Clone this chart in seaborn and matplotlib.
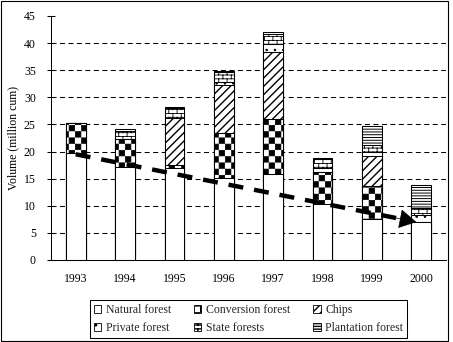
import warnings
warnings.filterwarnings("ignore")
import numpy as np
import matplotlib
matplotlib.use("Agg")
import matplotlib.pyplot as plt
import matplotlib.hatch as mhatch
from matplotlib.path import Path
from matplotlib.patches import Patch, Rectangle
import seaborn as sns

# ---------------- data ----------------
years = ["1993", "1994", "1995", "1996", "1997", "1998", "1999", "2000"]
natural_forest = [19.8, 17.2, 16.9, 15.2, 15.8, 10.3, 7.5, 7.1]
conversion_forest = [5.4, 5.1, 0.6, 8.3, 10.2, 6.0, 6.1, 0.0]
chips = [0.0, 0.0, 8.6, 8.8, 12.4, 0.0, 5.5, 0.0]
private_forest = [0.0, 0.0, 0.0, 0.6, 1.4, 0.6, 0.9, 1.2]
state_forests = [0.0, 1.5, 1.9, 1.7, 1.8, 1.7, 1.2, 1.2]
plantation_forest = [0.0, 0.3, 0.3, 0.3, 0.5, 0.3, 3.5, 4.3]
series_names = ["Natural forest", "Conversion forest", "Chips",
                "Private forest", "State forests", "Plantation forest"]
trend_x = [0, 6.9]
trend_y = [19.5, 7.0]
y_ticks = [0, 5, 10, 15, 20, 25, 30, 35, 40, 45]

# ---------------- custom hatch patterns ----------------
CHECK_INSET = 0.0035


class CheckerHatch(mhatch.HatchPatternBase):
    def __init__(self, hatch, density):
        self.n = hatch.count('c') * 16
        self.num_vertices = (self.n * self.n // 2) * 5

    def set_vertices_and_codes(self, vertices, codes):
        n = self.n
        s = 1.0 / n
        e = CHECK_INSET
        k = 0
        for i in range(n):
            for j in range(n):
                if (i + j) % 2 == 0:
                    x0, y0 = i * s + e, j * s + e
                    x1, y1 = (i + 1) * s - e, (j + 1) * s - e
                    vertices[k:k + 5] = [[x0, y0], [x1, y0], [x1, y1], [x0, y1], [x0, y0]]
                    codes[k] = Path.MOVETO
                    codes[k + 1:k + 4] = Path.LINETO
                    codes[k + 4] = Path.CLOSEPOLY
                    k += 5


class BrickHatch(mhatch.HatchPatternBase):
    rows = 26
    cols = 12

    def __init__(self, hatch, density):
        self.on = hatch.count('b') > 0
        self.num_vertices = (self.rows * 2 + self.rows * self.cols * 2) if self.on else 0

    def set_vertices_and_codes(self, vertices, codes):
        h = 1.0 / self.rows
        w = 1.0 / self.cols
        k = 0
        for r in range(self.rows):
            y = (r + 0.5) * h
            vertices[k] = [0.0, y]
            vertices[k + 1] = [1.0, y]
            codes[k] = Path.MOVETO
            codes[k + 1] = Path.LINETO
            k += 2
            off = 0.5 * w if r % 2 else 0.0
            for c in range(self.cols):
                x = c * w + off + 0.25 * w
                vertices[k] = [x, y]
                vertices[k + 1] = [x, y + h]
                codes[k] = Path.MOVETO
                codes[k + 1] = Path.LINETO
                k += 2


mhatch._hatch_types.append(CheckerHatch)
mhatch._hatch_types.append(BrickHatch)

# ---------------- style ----------------
sns.set_style("white")
plt.rcParams['font.family'] = ['Liberation Serif', 'DejaVu Serif']
plt.rcParams['lines.scale_dashes'] = False
plt.rcParams['hatch.color'] = 'black'

hatches = ['', 'c', '////', '..', 'b', '------']
hatch_lws = [0.5, 0.5, 1.0, 0.6, 0.6, 0.7]

fig = plt.figure(figsize=(4.53, 3.42), dpi=100)
ax = fig.add_axes([51 / 453, 82 / 342, 395 / 453, 244 / 342])

layers = np.array([natural_forest, conversion_forest, chips,
                   private_forest, state_forests, plantation_forest])
cum = np.cumsum(layers, axis=0)

for i in reversed(range(len(series_names))):
    n_before = len(ax.patches)
    with plt.rc_context({'hatch.linewidth': hatch_lws[i]}):
        sns.barplot(x=years, y=cum[i], color='white', edgecolor='black',
                    linewidth=0.75, hatch=hatches[i], width=0.4,
                    saturation=1, errorbar=None, ax=ax, zorder=2)
    for p in ax.patches[n_before:]:
        if hasattr(p, 'set_hatch_linewidth'):
            p.set_hatch_linewidth(hatch_lws[i])

# grid lines (dashed, skipping 0 and 45)
for yv in y_ticks[1:-1]:
    ax.axhline(yv, color='black', lw=0.75, linestyle=(0, (3.6, 2.5)), zorder=0.5)

# trend arrow
t_head = 0.955
line_end_x = trend_x[0] + (trend_x[1] - trend_x[0]) * t_head
line_end_y = trend_y[0] + (trend_y[1] - trend_y[0]) * t_head
ax.plot([trend_x[0], line_end_x], [trend_y[0], line_end_y], color='black',
        lw=3.2, linestyle=(0, (10.8, 7.9)), solid_capstyle='butt',
        dash_capstyle='butt', zorder=5)
hs_x = trend_x[0] + (trend_x[1] - trend_x[0]) * 0.93
hs_y = trend_y[0] + (trend_y[1] - trend_y[0]) * 0.93
ax.annotate('', xy=(trend_x[1], trend_y[1]), xytext=(hs_x, hs_y),
            arrowprops=dict(arrowstyle='-|>,head_length=0.8,head_width=0.45',
                            mutation_scale=14, lw=0.5, color='black',
                            shrinkA=0, shrinkB=0), zorder=6)

ax.set_xlim(-0.5, 7.5)
ax.set_ylim(0, 45)
ax.set_yticks(y_ticks)
for s in ['top', 'right']:
    ax.spines[s].set_visible(False)
for s in ['left', 'bottom']:
    ax.spines[s].set_color('black')
    ax.spines[s].set_linewidth(0.75)
ax.tick_params(axis='y', direction='inout', length=5.8, width=0.75, pad=8,
               labelsize=8.5, colors='black', left=True)
ax.tick_params(axis='x', length=0, pad=9, labelsize=8.5, colors='black')
ax.set_xlabel('')
ax.set_ylabel("Volume (million cum)", fontsize=8.5, color='black')
ax.yaxis.set_label_coords(-0.08, 0.5)

# legend
handles = []
for name, h, hl in zip(series_names, hatches, hatch_lws):
    p = Patch(facecolor='white', edgecolor='black', hatch=h, lw=0.6, label=name)
    if hasattr(p, 'set_hatch_linewidth'):
        p.set_hatch_linewidth(hl)
    handles.append(p)
order = [0, 3, 1, 4, 2, 5]
leg = fig.legend([handles[k] for k in order], [series_names[k] for k in order],
                 loc='center', bbox_to_anchor=(248.5 / 453, 1 - 319 / 342),
                 bbox_transform=fig.transFigure, ncol=3, frameon=True,
                 fancybox=False, edgecolor='black', framealpha=1, fontsize=8.5,
                 handlelength=0.65, handleheight=0.65, handletextpad=0.4,
                 columnspacing=1.9, labelspacing=0.55, borderpad=0.35)
leg.get_frame().set_linewidth(0.75)

# outer frame
fig.add_artist(Rectangle((0.5 / 453, 1.5 / 342), 447 / 453, 340 / 342,
                         transform=fig.transFigure, fill=False,
                         edgecolor='black', lw=0.8))

fig.savefig('out.png', dpi=100)
